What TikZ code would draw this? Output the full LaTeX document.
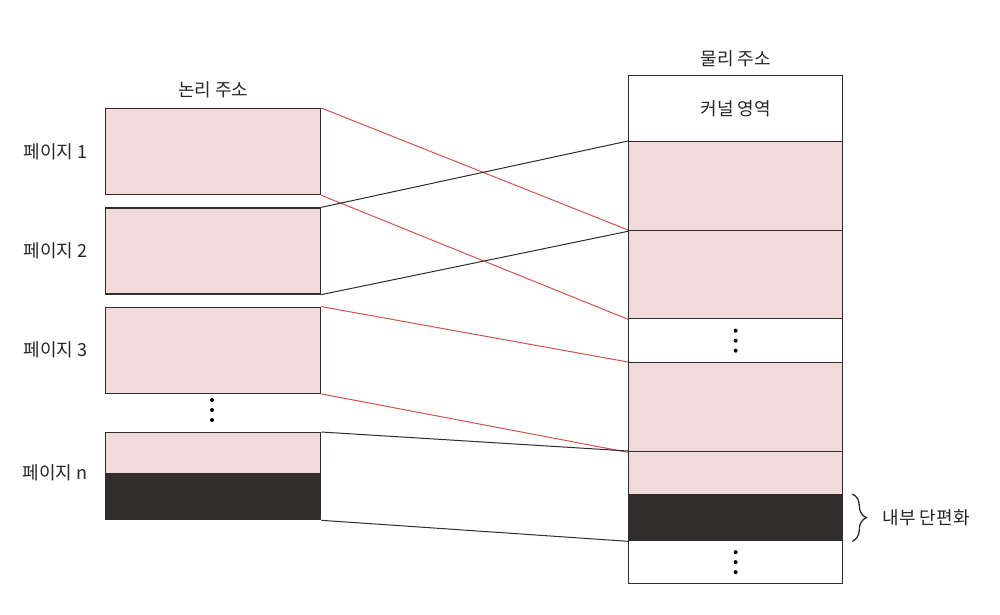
\documentclass[tikz,border=0pt]{standalone}
\usepackage{fontspec}
\setmainfont{Noto Sans CJK KR}
\usetikzlibrary{positioning,decorations.pathreplacing}
\definecolor{pagepink}{RGB}{242,218,219}
\definecolor{fragdark}{RGB}{50,46,46}
\definecolor{mapred}{RGB}{212,82,74}
\definecolor{mapline}{RGB}{45,45,45}
\tikzset{
  blk/.style={draw=mapline, line width=1.3pt, inner sep=0pt, minimum width=215pt},
  pagebox/.style={blk, fill=pagepink, minimum height=86pt},
  framebox/.style={blk, minimum width=214pt},
  lbl/.style={font=\fontsize{18}{21}\selectfont, text=black!85},
  redmap/.style={draw=mapred, line width=1pt},
  blkmap/.style={draw=mapline, line width=1pt},
}
\begin{document}
\begin{tikzpicture}[x=1pt, y=-1pt]
    \useasboundingbox (0,0) rectangle (1000,614);

    % 1. 논리 주소 (페이지)
    \node[pagebox, anchor=north west] (p1) at (105,108) {};
    \node[pagebox, below=12pt of p1] (p2) {};
    \node[pagebox, below=12pt of p2] (p3) {};
    \node[blk, fill=pagepink, minimum height=41pt, anchor=north west] (pn) at (105,432) {};
    \node[blk, fill=fragdark, minimum height=46pt, below=-1.3pt of pn] (pnx) {};

    \node[lbl, above=7pt of p1] (logtitle) {논리 주소};
    \node[lbl, left=14pt of p1] (l1) {페이지 1};
    \node[lbl, left=14pt of p2] (l2) {페이지 2};
    \node[lbl, left=14pt of p3] (l3) {페이지 3};
    \node[lbl, anchor=east] (ln) at ([xshift=-14pt]pnx.north west) {페이지 n};

    % 2. 물리 주소 (프레임)
    \node[framebox, lbl, minimum height=66pt, anchor=north west] (kernel) at (628,75) {커널 영역};
    \node[framebox, fill=pagepink, minimum height=89pt, below=-1.3pt of kernel] (fa) {};
    \node[framebox, fill=pagepink, minimum height=88pt, below=-1.3pt of fa] (fb) {};
    \node[framebox, minimum height=44pt, below=-1.3pt of fb] (gap1) {};
    \node[framebox, fill=pagepink, minimum height=89pt, below=-1.3pt of gap1] (fc) {};
    \node[framebox, fill=pagepink, minimum height=43pt, below=-1.3pt of fc] (fd) {};
    \node[framebox, fill=fragdark, minimum height=46pt, below=-1.3pt of fd] (frag) {};
    \node[framebox, minimum height=43pt, below=-1.3pt of frag] (gap2) {};

    \node[lbl, above=5pt of kernel] (phytitle) {물리 주소};

    % 3. 페이지 -> 프레임 대응선
    \draw[redmap] (p1.north east) -- (fb.north west);
    \draw[redmap] (p1.south east) -- (fb.south west);
    \draw[blkmap] (p2.north east) -- (fa.north west);
    \draw[blkmap] (p2.south east) -- (fa.south west);
    \draw[redmap] (p3.north east) -- (fc.north west);
    \draw[redmap] (p3.south east) -- (fc.south west);
    \draw[blkmap] (pn.north east) -- (fd.north west);
    \draw[blkmap] (pnx.south east) -- (frag.south west);

    % 4. 생략 점
    \coordinate (ldots) at (212,410);
    \foreach \c in {ldots, gap1, gap2}
        \foreach \d in {-10,0,10}
            \fill ([yshift=\d pt]\c) circle (2pt);

    % 5. 내부 단편화
    \draw[mapline, line width=1.3pt, decorate, decoration={brace, amplitude=14pt}]
        ([xshift=9pt]frag.north east) -- ([xshift=9pt]frag.south east);
    \node[lbl, anchor=west] (fraglbl) at ([xshift=36pt]frag.east) {내부 단편화};
\end{tikzpicture}
\end{document}
